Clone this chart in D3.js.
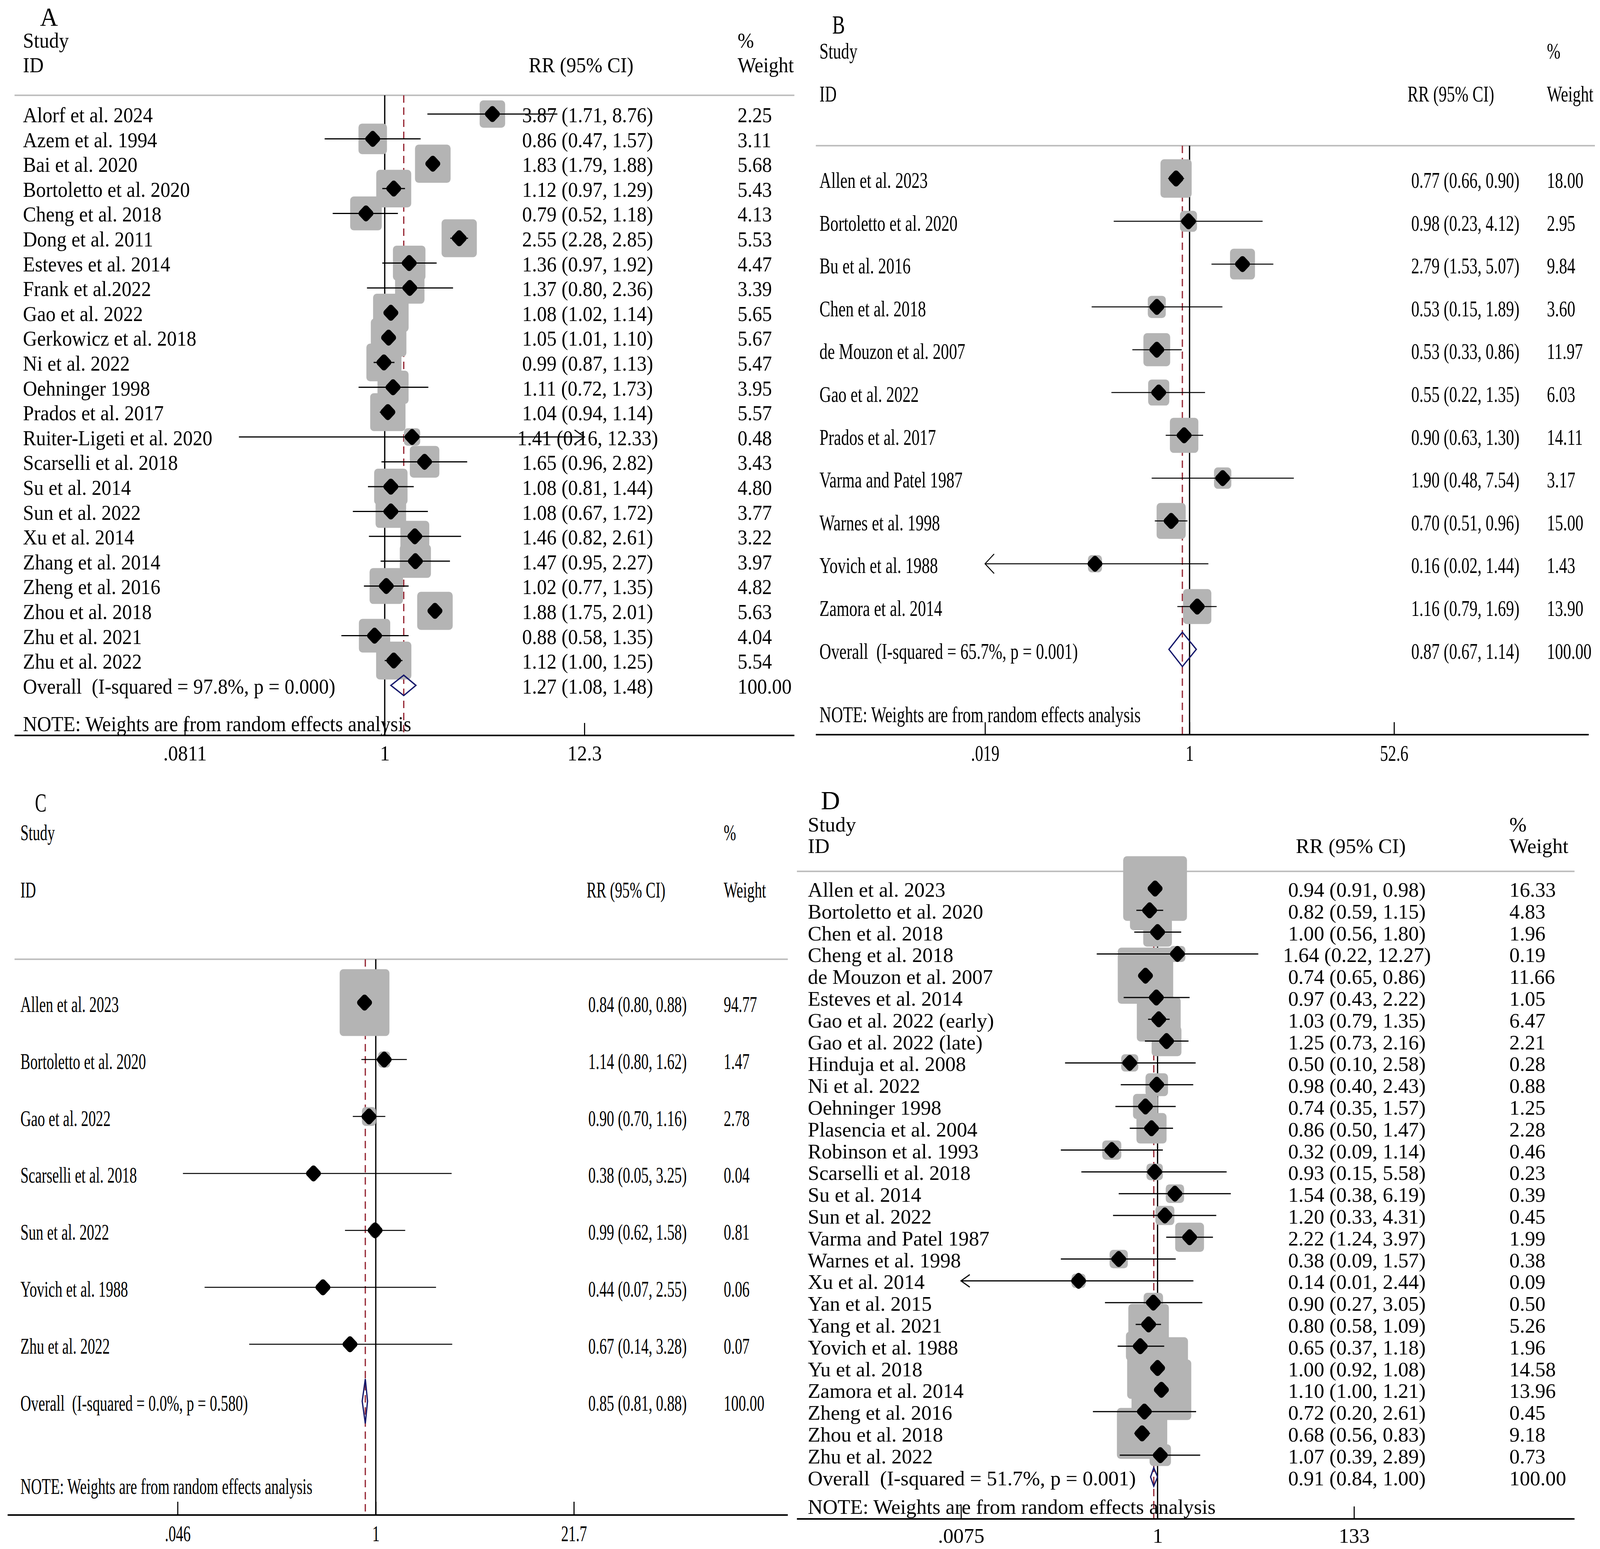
<!DOCTYPE html>
<html>
<head>
<meta charset="utf-8">
<script src="https://cdn.jsdelivr.net/npm/d3@7"></script>
<style>
  html, body { margin: 0; padding: 0; background: #fff; overflow: hidden; }
  #chart svg { display: block; width: 100vw; height: 100vh; }
  svg text { font-family: "Liberation Serif", "Times New Roman", serif; white-space: pre; fill: #000; }
</style>
</head>
<body>
<div id="chart"></div>
<script>
// ---- panel A ----
const namesA = ["Alorf et al. 2024", "Azem et al. 1994", "Bai et al. 2020", "Bortoletto et al. 2020",
  "Cheng et al. 2018", "Dong et al. 2011", "Esteves et al. 2014", "Frank et al.2022", "Gao et al. 2022",
  "Gerkowicz et al. 2018", "Ni et al. 2022", "Oehninger 1998", "Prados et al. 2017",
  "Ruiter-Ligeti et al. 2020", "Scarselli et al. 2018", "Su et al. 2014", "Sun et al. 2022",
  "Xu et al. 2014", "Zhang et al. 2014", "Zheng et al. 2016", "Zhou et al. 2018", "Zhu et al. 2021",
  "Zhu et al. 2022"]
const rrA = [3.87, 0.86, 1.83, 1.12, 0.79, 2.55, 1.36, 1.37, 1.08, 1.05, 0.99, 1.11, 1.04, 1.41, 1.65, 1.08, 1.08, 1.46, 1.47, 1.02, 1.88, 0.88, 1.12]
const lowA = [1.71, 0.47, 1.79, 0.97, 0.52, 2.28, 0.97, 0.80, 1.02, 1.01, 0.87, 0.72, 0.94, 0.16, 0.96, 0.81, 0.67, 0.82, 0.95, 0.77, 1.75, 0.58, 1.00]
const highA = [8.76, 1.57, 1.88, 1.29, 1.18, 2.85, 1.92, 2.36, 1.14, 1.10, 1.13, 1.73, 1.14, 12.33, 2.82, 1.44, 1.72, 2.61, 2.27, 1.35, 2.01, 1.35, 1.25]
const weightA = [2.25, 3.11, 5.68, 5.43, 4.13, 5.53, 4.47, 3.39, 5.65, 5.67, 5.47, 3.95, 5.57, 0.48, 3.43, 4.80, 3.77, 3.22, 3.97, 4.82, 5.63, 4.04, 5.54]
const overallA = [1.27, 1.08, 1.48]
const hetA = "Overall  (I-squared = 97.8%, p = 0.000)"
const ticksA = [0.0811, 1, 12.3]
const tickLabelsA = [".0811", "1", "12.3"]
const arrowsA = ["Ruiter-Ligeti et al. 2020"]

// ---- panel B ----
const namesB = ["Allen et al. 2023", "Bortoletto et al. 2020", "Bu et al. 2016", "Chen et al. 2018",
  "de Mouzon et al. 2007", "Gao et al. 2022", "Prados et al. 2017", "Varma and Patel 1987",
  "Warnes et al. 1998", "Yovich et al. 1988", "Zamora et al. 2014"]
const rrB = [0.77, 0.98, 2.79, 0.53, 0.53, 0.55, 0.90, 1.90, 0.70, 0.16, 1.16]
const lowB = [0.66, 0.23, 1.53, 0.15, 0.33, 0.22, 0.63, 0.48, 0.51, 0.02, 0.79]
const highB = [0.90, 4.12, 5.07, 1.89, 0.86, 1.35, 1.30, 7.54, 0.96, 1.44, 1.69]
const weightB = [18.00, 2.95, 9.84, 3.60, 11.97, 6.03, 14.11, 3.17, 15.00, 1.43, 13.90]
const overallB = [0.87, 0.67, 1.14]
const hetB = "Overall  (I-squared = 65.7%, p = 0.001)"
const ticksB = [0.019, 1, 52.6]
const tickLabelsB = [".019", "1", "52.6"]
const arrowsB = ["Yovich et al. 1988"]

// ---- panel C ----
const namesC = ["Allen et al. 2023", "Bortoletto et al. 2020", "Gao et al. 2022", "Scarselli et al. 2018",
  "Sun et al. 2022", "Yovich et al. 1988", "Zhu et al. 2022"]
const rrC = [0.84, 1.14, 0.90, 0.38, 0.99, 0.44, 0.67]
const lowC = [0.80, 0.80, 0.70, 0.05, 0.62, 0.07, 0.14]
const highC = [0.88, 1.62, 1.16, 3.25, 1.58, 2.55, 3.28]
const weightC = [94.77, 1.47, 2.78, 0.04, 0.81, 0.06, 0.07]
const overallC = [0.85, 0.81, 0.88]
const hetC = "Overall  (I-squared = 0.0%, p = 0.580)"
const ticksC = [0.046, 1, 21.7]
const tickLabelsC = [".046", "1", "21.7"]
const arrowsC = []

// ---- panel D ----
const namesD = ["Allen et al. 2023", "Bortoletto et al. 2020", "Chen et al. 2018", "Cheng et al. 2018",
  "de Mouzon et al. 2007", "Esteves et al. 2014", "Gao et al. 2022 (early)", "Gao et al. 2022 (late)",
  "Hinduja et al. 2008", "Ni et al. 2022", "Oehninger 1998", "Plasencia et al. 2004",
  "Robinson et al. 1993", "Scarselli et al. 2018", "Su et al. 2014", "Sun et al. 2022",
  "Varma and Patel 1987", "Warnes et al. 1998", "Xu et al. 2014", "Yan et al. 2015", "Yang et al. 2021",
  "Yovich et al. 1988", "Yu et al. 2018", "Zamora et al. 2014", "Zheng et al. 2016", "Zhou et al. 2018",
  "Zhu et al. 2022"]
const rrD = [0.94, 0.82, 1.00, 1.64, 0.74, 0.97, 1.03, 1.25, 0.50, 0.98, 0.74, 0.86, 0.32, 0.93, 1.54, 1.20, 2.22, 0.38, 0.14, 0.90, 0.80, 0.65, 1.00, 1.10, 0.72, 0.68, 1.07]
const lowD = [0.91, 0.59, 0.56, 0.22, 0.65, 0.43, 0.79, 0.73, 0.10, 0.40, 0.35, 0.50, 0.09, 0.15, 0.38, 0.33, 1.24, 0.09, 0.01, 0.27, 0.58, 0.37, 0.92, 1.00, 0.20, 0.56, 0.39]
const highD = [0.98, 1.15, 1.80, 12.27, 0.86, 2.22, 1.35, 2.16, 2.58, 2.43, 1.57, 1.47, 1.14, 5.58, 6.19, 4.31, 3.97, 1.57, 2.44, 3.05, 1.09, 1.18, 1.08, 1.21, 2.61, 0.83, 2.89]
const weightD = [16.33, 4.83, 1.96, 0.19, 11.66, 1.05, 6.47, 2.21, 0.28, 0.88, 1.25, 2.28, 0.46, 0.23, 0.39, 0.45, 1.99, 0.38, 0.09, 0.50, 5.26, 1.96, 14.58, 13.96, 0.45, 9.18, 0.73]
const overallD = [0.91, 0.84, 1.00]
const hetD = "Overall  (I-squared = 51.7%, p = 0.001)"
const ticksD = [0.0075, 1, 133]
const tickLabelsD = [".0075", "1", "133"]
const arrowsD = ["Xu et al. 2014"]

const noteText = "NOTE: Weights are from random effects analysis"

// layout of each panel, on the 4397 x 3966 grid of the original figure
const layoutA = { letterX: 110, letterY: 66, sx: 1.0, fs: 54, textX: 63, studyY: 122, idY: 185,
  rrHeadX: 1453, rrX: 1615, wX: 2027, grayY: 244, lineX0: 40, lineX1: 2183, row0: 292, step: 63.6,
  base: 21, noteY: 1872, axisY: 1883, axisX0: 40, axisX1: 2183, tickLen: 32, tickLabelY: 1947,
  xr: [508, 1606], ovH: 26, boxA: 23, boxK: 31.4, boxW: 1.0, ciW: 3, arrW: 27, arrH: 18 }
const layoutB = { letterX: 2287, letterY: 86, sx: 0.77, fs: 58, textX: 2252, studyY: 150, idY: 260,
  rrHeadX: 3868, rrX: 4027, wX: 4251, grayY: 373, lineX0: 2242, lineX1: 4383, row0: 457, step: 109.6,
  base: 24, noteY: 1849, axisY: 1881, axisX0: 2242, axisX1: 4366, tickLen: 32, tickLabelY: 1948,
  xr: [2707, 3831], ovH: 44, boxA: 23, boxK: 17.8, boxW: 0.87, ciW: 2.5, arrW: 25, arrH: 25 }
const layoutC = { letterX: 96, letterY: 2078, sx: 0.70, fs: 58, textX: 56, studyY: 2151, idY: 2298,
  rrHeadX: 1612, rrX: 1752, wX: 1989, grayY: 2456, lineX0: 40, lineX1: 2165, row0: 2567, step: 145.8,
  base: 24, noteY: 3825, axisY: 3879, axisX0: 21, axisX1: 2165, tickLen: 34, tickLabelY: 3946,
  xr: [488, 1577], ovH: 57, boxA: 23, boxK: 15.2, boxW: 0.8, ciW: 2.5, arrW: 25, arrH: 25 }
const layoutD = { letterX: 2256, letterY: 2072, sx: 1.07, fs: 53, textX: 2220, studyY: 2129, idY: 2184,
  rrHeadX: 3561, rrX: 3729, wX: 4148, grayY: 2231, lineX0: 2190, lineX1: 4327, row0: 2275, step: 55.8,
  base: 21, noteY: 3876, axisY: 3889, axisX0: 2190, axisX1: 4327, tickLen: 32, tickLabelY: 3950,
  xr: [2641, 3721], ovH: 23.5, boxA: 26, boxK: 34.5, boxW: 1.06, ciW: 3, arrW: 24, arrH: 16 }

const panels = [
  { id: "A", names: namesA, rr: rrA, low: lowA, high: highA, weight: weightA, overall: overallA, het: hetA, ticks: ticksA, tickLabels: tickLabelsA, arrows: arrowsA, layout: layoutA },
  { id: "B", names: namesB, rr: rrB, low: lowB, high: highB, weight: weightB, overall: overallB, het: hetB, ticks: ticksB, tickLabels: tickLabelsB, arrows: arrowsB, layout: layoutB },
  { id: "C", names: namesC, rr: rrC, low: lowC, high: highC, weight: weightC, overall: overallC, het: hetC, ticks: ticksC, tickLabels: tickLabelsC, arrows: arrowsC, layout: layoutC },
  { id: "D", names: namesD, rr: rrD, low: lowD, high: highD, weight: weightD, overall: overallD, het: hetD, ticks: ticksD, tickLabels: tickLabelsD, arrows: arrowsD, layout: layoutD }
]

const fmt = d3.format(".2f")

// the window is narrower than the figure, so draw on the figure's grid and stretch it to fill
const svg = d3.select("#chart").append("svg")
  .attr("viewBox", "0 0 4397 3966")
  .attr("preserveAspectRatio", "none")

// text that can be squeezed sideways like the original panels
function label(g, x, y, str, size, sx, anchor) {
  return g.append("text")
    .attr("transform", `translate(${x},${y}) scale(${sx},1)`)
    .attr("text-anchor", anchor || "start")
    .attr("font-size", size)
    .text(str)
}

function drawPanel(d) {
  const L = d.layout
  const g = svg.append("g")
  const n = d.names.length

  const x = d3.scaleLog()
    .domain([d.ticks[0], d.ticks[d.ticks.length - 1]])
    .range(L.xr)
  const y = d3.scalePoint()
    .domain(d3.range(n + 1))
    .range([L.row0, L.row0 + n * L.step])
  const [dmin, dmax] = x.domain()

  // headings
  label(g, L.letterX, L.letterY, d.id, 68, L.sx)
  label(g, L.textX, L.studyY, "Study", L.fs, L.sx)
  label(g, L.textX, L.idY, "ID", L.fs, L.sx)
  label(g, L.rrHeadX, L.idY, "RR (95% CI)", L.fs, L.sx)
  label(g, L.wX, L.studyY, "%", L.fs, L.sx)
  label(g, L.wX, L.idY, "Weight", L.fs, L.sx)

  g.append("line")
    .attr("x1", L.lineX0).attr("x2", L.lineX1)
    .attr("y1", L.grayY).attr("y2", L.grayY)
    .attr("stroke", "#bfbfbf").attr("stroke-width", 4)

  // no-effect line and pooled estimate line
  g.append("line")
    .attr("x1", x(1)).attr("x2", x(1))
    .attr("y1", L.grayY).attr("y2", L.axisY)
    .attr("stroke", "black").attr("stroke-width", 3.5)
  g.append("line")
    .attr("x1", x(d.overall[0])).attr("x2", x(d.overall[0]))
    .attr("y1", L.grayY).attr("y2", L.axisY)
    .attr("stroke", "#982b38").attr("stroke-width", 3.5)
    .attr("stroke-dasharray", "19,12")

  const rows = d.names.map((name, i) => ({ name, i, rr: d.rr[i], lo: d.low[i], hi: d.high[i], w: d.weight[i] }))

  // weight boxes
  const side = r => L.boxA + L.boxK * Math.sqrt(r.w)
  g.selectAll("rect.box")
    .data(rows)
    .join("rect")
    .attr("class", "box")
    .attr("x", r => x(r.rr) - side(r) * L.boxW / 2)
    .attr("y", r => y(r.i) - side(r) / 2)
    .attr("width", r => side(r) * L.boxW)
    .attr("height", side)
    .attr("rx", 10)
    .attr("fill", "#b4b4b4")

  // confidence intervals, cut at the axis ends
  const arrowSide = r => {
    if (!d.arrows.includes(r.name)) return 0
    return Math.log(r.lo / dmin) < Math.log(dmax / r.hi) ? -1 : 1
  }
  const ciX1 = r => arrowSide(r) === -1 ? x(dmin) : x(Math.max(r.lo, dmin))
  const ciX2 = r => arrowSide(r) === 1 ? x(dmax) : x(Math.min(r.hi, dmax))

  g.selectAll("line.ci")
    .data(rows)
    .join("line")
    .attr("class", "ci")
    .attr("x1", ciX1).attr("x2", ciX2)
    .attr("y1", r => y(r.i)).attr("y2", r => y(r.i))
    .attr("stroke", "black").attr("stroke-width", L.ciW)

  g.selectAll("path.arrow")
    .data(rows.filter(r => arrowSide(r) !== 0))
    .join("path")
    .attr("class", "arrow")
    .attr("d", r => {
      const s = arrowSide(r)
      const tx = s < 0 ? x(dmin) : x(dmax)
      const yy = y(r.i)
      return `M${tx - s * L.arrW},${yy - L.arrH}L${tx},${yy}L${tx - s * L.arrW},${yy + L.arrH}`
    })
    .attr("fill", "none").attr("stroke", "black").attr("stroke-width", L.ciW)

  // point estimates (rounded diamonds)
  g.selectAll("path.pt")
    .data(rows)
    .join("path")
    .attr("class", "pt")
    .attr("transform", r => `translate(${x(r.rr)},${y(r.i)})`)
    .attr("d", "M0,-12.5L12.5,0L0,12.5L-12.5,0Z")
    .attr("fill", "black").attr("stroke", "black")
    .attr("stroke-width", 16).attr("stroke-linejoin", "round")

  // pooled diamond
  const oy = y(n)
  g.append("path")
    .attr("d", `M${x(d.overall[1])},${oy}L${x(d.overall[0])},${oy - L.ovH}L${x(d.overall[2])},${oy}L${x(d.overall[0])},${oy + L.ovH}Z`)
    .attr("fill", "none").attr("stroke", "#15186b").attr("stroke-width", 3.5)

  // text columns
  rows.forEach(r => {
    const ty = y(r.i) + L.base
    label(g, L.textX, ty, r.name, L.fs, L.sx)
    label(g, L.rrX, ty, `${fmt(r.rr)} (${fmt(r.lo)}, ${fmt(r.hi)})`, L.fs, L.sx, "middle")
    label(g, L.wX, ty, fmt(r.w), L.fs, L.sx)
  })
  label(g, L.textX, oy + L.base, d.het, L.fs, L.sx)
  label(g, L.rrX, oy + L.base, `${fmt(d.overall[0])} (${fmt(d.overall[1])}, ${fmt(d.overall[2])})`, L.fs, L.sx, "middle")
  label(g, L.wX, oy + L.base, fmt(d3.sum(d.weight)), L.fs, L.sx)
  label(g, L.textX, L.noteY, noteText, L.fs, L.sx)

  // axis
  g.append("line")
    .attr("x1", L.axisX0).attr("x2", L.axisX1)
    .attr("y1", L.axisY).attr("y2", L.axisY)
    .attr("stroke", "black").attr("stroke-width", 4)

  const xAxis = d3.axisBottom(x)
    .tickValues(d.ticks)
    .tickFormat((t, i) => d.tickLabels[i])
    .tickSize(-L.tickLen)
    .tickSizeOuter(0)
    .tickPadding(L.tickLabelY - L.axisY - 0.71 * L.fs)

  const axG = g.append("g")
    .attr("transform", `translate(0,${L.axisY})`)
    .call(xAxis)
  axG.select(".domain").remove()
  axG.selectAll(".tick line").attr("stroke", "black").attr("stroke-width", 3)
  axG.selectAll(".tick text")
    .attr("font-size", L.fs)
    .attr("font-family", "Liberation Serif")
    .attr("fill", "black")
    .attr("transform", `scale(${L.sx},1)`)
}

panels.forEach(drawPanel)
</script>
</body>
</html>
